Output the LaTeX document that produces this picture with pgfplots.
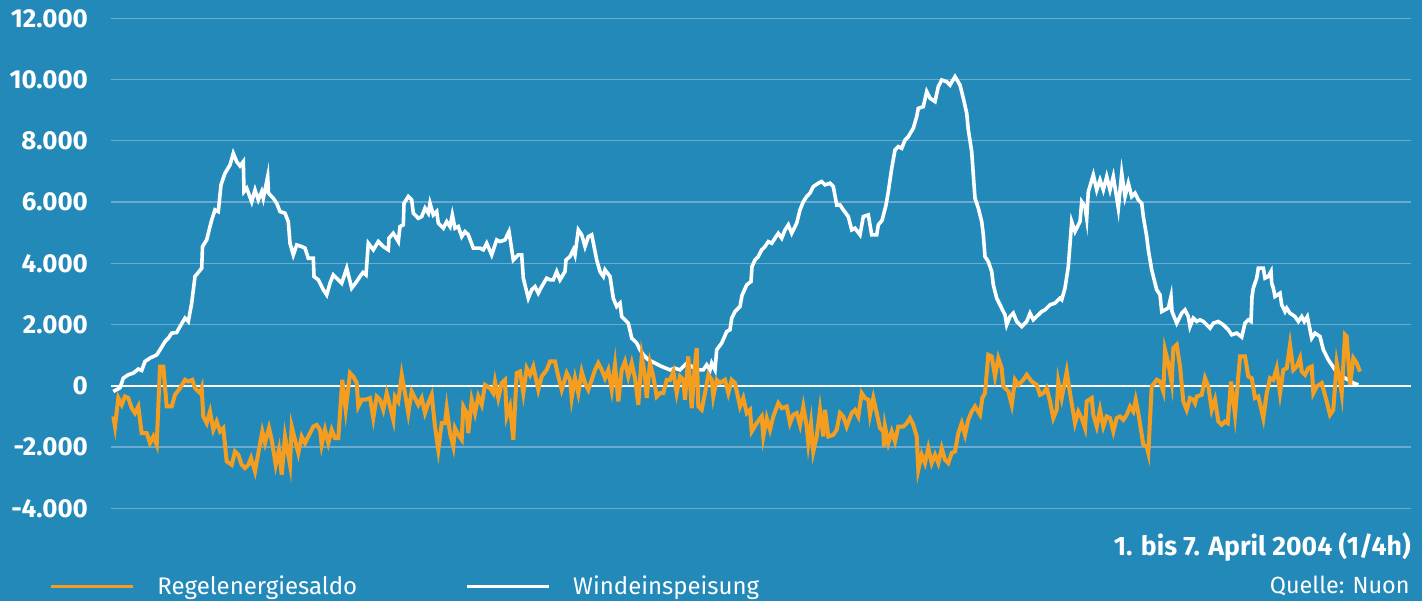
\documentclass[border=0pt]{standalone}
\usepackage{fontspec}
\setmainfont{Fira Sans}
\usepackage{pgfplots}
\pgfplotsset{compat=1.18}
\definecolor{bg}{RGB}{35,137,185}
\definecolor{org}{RGB}{245,157,30}
\definecolor{grd}{RGB}{105,172,208}
\begin{document}
\begin{tikzpicture}
\fill[bg] (0,0) rectangle (711pt,300.5pt);
\begin{axis}[
  at={(55.5pt,46.35pt)}, anchor=south west,
  scale only axis, width=650pt, height=245pt,
  xmin=111, xmax=1411, ymin=-4000, ymax=12000,
  axis line style={draw=none},
  scaled ticks=false,
  xtick=\empty,
  ytick={-4000,-2000,0,2000,4000,6000,8000,10000,12000},
  yticklabels={-4.000,-2.000,0,2.000,4.000,6.000,8.000,10.000,12.000},
  yticklabel style={font=\bfseries\fontsize{13}{15}\selectfont, text=white, anchor=east, xshift=-8pt},
  major tick length=0pt,
  ymajorgrids, grid style={grd, line width=0.6pt},
  extra y ticks={0}, extra y tick labels={},
  extra y tick style={grid style={white, line width=1.1pt}},
  legend columns=2,
  legend style={at={(-0.0477,-0.1606)}, anchor=west, draw=none, fill=none, inner sep=0pt,
    text=white, font=\fontsize{12}{14}\selectfont,
    /tikz/every even column/.append style={column sep=52pt}},
  legend image code/.code={\draw[#1] (0pt,0pt) -- (41pt,0pt); \path (50.5pt,0pt);},
  legend cell align=left,
]
\addlegendimage{org, line width=1.5pt}
\addlegendimage{white, line width=1.5pt}
\addplot[white, line width=1.8pt, forget plot] coordinates {
(113.3,-185)(120,-65)(123.3,250)(128.3,360)(133.3,415)(138.3,545)(141.7,500)(145,795)(150,905)(156.7,1010)
(160,1175)(165,1445)(168.3,1555)(171.7,1720)(176.7,1740)(180,1935)(185,2210)(188.3,2100)(191.7,2700)(195,3570)
(201.7,3840)(202.5,4545)(206.7,4765)(210,5200)(211.7,5415)(215,5745)(218.3,5690)(221,6560)(225,6940)(230,7210)
(233.3,7590)(236.7,7320)(240,7180)(243.3,7320)(244,6340)(246.7,6450)(251.7,6010)(255,6395)(258.3,6070)(261.7,6340)
(263.3,6125)(267.7,6830)(268.5,6290)(273.3,6125)(276.7,5960)(280,5690)(285,5635)(288.3,5360)(290,4655)(293.3,4275)
(296.7,4600)(301.7,4545)(305,4495)(308.3,4165)(313.3,4165)(314,3570)(318.3,3460)(323.3,3135)(326.7,2970)(330,3350)
(333.3,3620)(338.3,3460)(341.7,3350)(346.7,3840)(351.7,3190)(356.7,3405)(360,3570)(363,3700)(366,3620)(368.3,4655)
(373.3,4440)(378.3,4710)(383.3,4545)(388.3,4440)(389,4820)(393.3,4980)(398.3,4710)(400,5200)(403.3,5255)(404,5960)
(408.3,6180)(411.7,6070)(413.3,5635)(418.3,5470)(421.7,5525)(425,5800)(428.3,5635)(430,5960)(433.3,5580)(436.7,5690)
(438.3,5310)(443.3,5145)(446.7,5360)(450,5200)(452.3,5580)(455,5145)(458.3,5200)(461.7,4870)(465,5035)(468.3,4930)
(473.3,4495)(480,4495)(483.3,4440)(486.7,4655)(491.7,4275)(496.7,4765)(500,4710)(505,4765)(509,5035)(513.3,4110)
(518.3,4275)(521.7,4275)(523.3,3515)(528.3,2860)(531.7,3135)(535,3240)(538.3,3025)(541.7,3240)(546.7,3515)(550,3460)
(553.3,3460)(556.7,3730)(560,3460)(565,3730)(566,4110)(570,4220)(573.3,4440)(575,4275)(578.3,5090)(581.7,4930)
(585,4545)(588.3,4870)(591.7,4930)(596.7,4110)(600,3730)(603.3,3570)(605,3785)(610,3570)(613.3,2860)(616.7,2590)
(620,2700)(621.7,2260)(625,2155)(628.3,2045)(631.7,1555)(636.7,1395)(640,1175)(643.3,1010)(648.3,850)(655,740)
(661.7,630)(670,520)(675,575)(680,520)(686.7,740)(691.7,630)(696.7,520)(703.3,520)(706.7,685)(710,520)
(711.7,740)(715,520)(716.7,1175)(721.7,1395)(726.7,1770)(730,1830)(731.7,2210)(735,2425)(740,2590)(742,2950)
(746.7,3295)(751,3405)(752,3895)(755,4110)(758.3,4220)(761.7,4440)(765,4545)(768.3,4710)(771.7,4655)(775,4820)
(778.3,4980)(781.7,4820)(785,5090)(788.3,5255)(791.7,4980)(796.7,5310)(800,5745)(803.3,6010)(806.7,6180)(810,6290)
(813.3,6505)(818.3,6615)(821.7,6670)(825,6560)(830,6615)(833.3,6505)(836.7,5905)(840,5905)(843.3,5745)(848.3,5525)
(851.7,5090)(855,5145)(860,4930)(863.3,5525)(868.3,5580)(871.7,4930)(876.7,4930)(878.3,5255)(882,5400)(886,5900)
(888.3,6340)(891.7,7100)(895,7700)(898.3,7810)(901.7,7755)(905,8025)(908.3,8135)(913.3,8410)(916.7,8790)(918.3,9060)
(923.3,9115)(926.7,9605)(930,9390)(935,9280)(938.3,9770)(941.7,9985)(946.7,9930)(950,9820)(955,10095)(960,9820)
(963.3,9390)(966.7,8900)(968.3,8355)(971.7,7645)(973.3,6885)(975,6125)(978.3,5800)(981.7,5360)(983.3,4930)(985,4220)
(988.3,4055)(991.7,3730)(993.3,3295)(996.7,2860)(1000,2645)(1005,2315)(1006.7,1990)(1010,2260)(1013.3,2370)(1016.7,2100)
(1021.7,1935)(1026.7,2100)(1030,2370)(1033.3,2155)(1038.3,2315)(1041.7,2425)(1045,2480)(1050,2645)(1055,2700)(1060,2860)
(1061.7,2810)(1065,3190)(1068.3,3895)(1071.7,5360)(1075,5035)(1080,5360)(1081.7,6010)(1085,5850)(1086.7,5470)(1088.3,6340)
(1093.3,6885)(1096.7,6395)(1100,6720)(1103.3,6395)(1106.7,6830)(1110,6395)(1113.3,6830)(1118.3,5800)(1121.7,6940)(1125,6180)
(1128.3,6615)(1131.7,6180)(1135,6290)(1138.3,6070)(1141.7,5960)(1143.3,5525)(1146.7,4870)(1148.3,4440)(1151.7,3785)(1156.7,3135)
(1160,2970)(1161.7,2425)(1165,2480)(1168.3,2535)(1171,2915)(1172,2425)(1176.7,2045)(1181.7,2370)(1185,2480)(1188.3,2260)
(1190,1935)(1193.3,2210)(1196.7,2100)(1200,2155)(1203.3,2100)(1210,1880)(1213.3,2045)(1218.3,2100)(1223.3,1990)(1228.3,1830)
(1231.7,1665)(1236.7,1720)(1241.7,1590)(1245,2045)(1248.3,2155)(1251,2100)(1252,2915)(1253.3,3190)(1256.7,3515)(1258.3,3840)
(1263.3,3840)(1265,3515)(1268.3,3570)(1271,3730)(1271.7,3350)(1273.3,3190)(1275,2915)(1280,3025)(1281.7,2645)(1285,2425)
(1286.7,2535)(1290,2370)(1295,2260)(1298.3,2100)(1301.7,2260)(1304.3,2100)(1307.3,2260)(1310,1830)(1311.7,1555)(1315,1720)
(1320,1610)(1323.3,1175)(1328.3,850)(1335,520)(1341.7,305)(1348.3,195)(1353.3,90)(1358.3,30)
};
\addplot[org, line width=2pt, forget plot] coordinates {
(113.3,-1000)(115,-1330)(118.3,-400)(121.7,-620)(125,-350)(128.3,-400)(131.7,-730)(135,-890)(138.3,-675)(141.7,-1545)
(146.7,-1545)(150,-1870)(153.3,-1655)(156.7,-1925)(160,630)(163.3,630)(166.7,-675)(171.7,-675)(175,-295)(180,-75)
(185,195)(188.3,140)(192.3,195)(195,-75)(200,-240)(201.7,-75)(203.3,-1000)(206.7,-1220)(210,-840)(213.3,-1435)
(216.7,-1165)(220,-1490)(223.3,-1380)(226.7,-2470)(231.7,-2580)(235,-2145)(238.3,-2250)(241.7,-2580)(245,-2685)(248.3,-2580)
(251,-2360)(255,-2795)(258.3,-2195)(262.3,-1490)(265,-1870)(269,-1380)(271.7,-1760)(275.7,-2580)(279,-2090)(281.7,-2905)
(285,-1655)(290,-2580)(291.7,-1330)(295,-1760)(298.3,-2195)(301.7,-1655)(305,-1870)(310,-1545)(313.3,-1330)(316.7,-1275)
(320,-1435)(321.7,-1925)(325,-1435)(328.3,-1870)(331.7,-1435)(335,-1710)(338.3,-1710)(342.3,195)(345.7,-785)(350,415)
(353.3,305)(356.7,90)(358.3,-675)(361.7,-455)(365,-455)(370,-400)(373.3,-1055)(376.7,-350)(380,-455)(383.3,-785)
(386.7,-240)(390,-675)(393.3,-1110)(395,-350)(398.3,-510)(401.7,360)(405,-240)(408.3,-890)(411.7,-185)(415,-400)
(418.3,-620)(421.7,-400)(425,-890)(428.3,-565)(431.7,-295)(435,-1330)(438.3,-2090)(441.7,-1220)(445,-1220)(446.7,-730)
(450,-1545)(453.3,-1980)(455,-1380)(458.3,-1600)(461.7,-1760)(463.3,-675)(466.7,-890)(468.3,-1545)(471.7,-455)(475,-890)
(478.3,-350)(481.7,-620)(485,30)(490,-75)(493.3,-240)(495,140)(498.3,-400)(501.7,90)(505,195)(506.7,-1000)
(510,-675)(513.3,-1760)(516.7,415)(520,465)(523.3,-240)(526.7,575)(530,360)(533.3,630)(538.3,-130)(541.7,305)
(546.7,520)(550,795)(555,795)(558.3,305)(561.7,-130)(566.7,415)(570,195)(571.7,-400)(575,250)(578.3,-240)
(581.7,465)(585,90)(588.3,-130)(591.7,195)(595,520)(598.3,740)(601.7,520)(605,250)(608.3,520)(611.7,-130)
(615,685)(618.3,-510)(621.7,520)(625,795)(628.3,305)(631.7,740)(635,250)(638.3,-620)(641.7,960)(645,305)
(646.7,-400)(650,740)(653.3,305)(656.7,-350)(660,-240)(663.3,-240)(666.7,195)(670,195)(673.3,465)(676.7,-240)
(680,305)(683.3,195)(685,-455)(688.3,960)(691.7,-730)(695,740)(696.7,1230)(698.3,-675)(701.7,-785)(705,-240)
(708.3,360)(711.7,195)(713.3,-350)(716.7,195)(720,90)(725,195)(728.3,-240)(731.7,195)(735,90)(740,-675)
(743.3,-400)(746.7,-890)(750,-785)(751.7,-1490)(756.7,-1220)(761.7,-1000)(763.3,-1655)(766.7,-1055)(770,-1435)(773.3,-1000)
(778.3,-565)(781.7,-730)(786.7,-675)(790,-1220)(793.3,-945)(796.7,-890)(800,-1275)(803.3,-675)(806.7,-1330)(808.3,-1870)
(811,-1220)(813.3,-2145)(816.7,-1655)(820,-785)(823.3,-1655)(825,-785)(828.3,-1655)(833.3,-1600)(836.7,-1435)(840,-890)
(843.3,-1000)(846.7,-1330)(851.7,-890)(855,-785)(858.3,-1000)(861.7,-240)(865,-400)(868.3,-455)(870,-945)(873.3,-400)
(876.7,-890)(880,-1380)(883.3,-1490)(884,-1980)(885,-1330)(888.3,-1870)(891.7,-1490)(895,-1820)(898.3,-1330)(903.3,-1330)
(906.7,-1220)(910,-1055)(913.3,-1275)(916.7,-1655)(918.3,-2740)(921.7,-2250)(925,-2525)(928.3,-2035)(931.7,-2525)(935,-2250)
(938.3,-2525)(941.7,-2035)(945,-2415)(948.3,-2525)(951.7,-2195)(955,-2145)(958.3,-1545)(961.7,-1220)(965,-1600)(968.3,-1110)
(971.7,-840)(975,-675)(980,-945)(982.3,-400)(985,-240)(988.3,1010)(991.7,960)(995,305)(998.3,905)(1001.7,575)
(1003.3,-20)(1008.3,-185)(1011.7,-620)(1015,195)(1018.3,30)(1023.3,195)(1026.7,360)(1031.7,140)(1036.7,30)(1040,-295)
(1043.3,-240)(1046.7,-75)(1050,-510)(1053.3,-1055)(1056.7,-785)(1058.3,140)(1061.7,-400)(1066.7,465)(1070,-240)(1075,-1220)
(1078.3,-840)(1081.7,-1055)(1085,-1380)(1086.7,-510)(1091.7,-400)(1093.3,-945)(1096.7,-1330)(1100,-785)(1103.3,-1330)(1106.7,-1000)
(1110,-1055)(1113.3,-1490)(1116.7,-1055)(1120,-1000)(1123.3,-1110)(1126.7,-945)(1130,-675)(1133.3,-840)(1135.7,-455)(1138.3,-890)
(1143.3,-1925)(1146.7,-1980)(1148.3,-2195)(1151.7,-20)(1156.7,195)(1160,140)(1163.3,-185)(1165,1175)(1168.3,740)(1171.7,90)
(1173.3,1230)(1176.7,1340)(1180,630)(1183.3,-510)(1186.7,-785)(1190,-400)(1193.3,-455)(1195,-565)(1196.7,-350)(1201.7,-295)
(1205,250)(1208.3,-20)(1211.7,-785)(1215,-455)(1218.3,-1165)(1221.7,-1275)(1225,-1165)(1227.7,-1220)(1231,140)(1235,-945)
(1240,960)(1245,960)(1248.3,305)(1251.7,250)(1255,-400)(1258.3,-350)(1263.3,-1055)(1266.7,-240)(1270,250)(1273.3,195)
(1276.7,575)(1280,-240)(1283.3,520)(1286.7,575)(1290,1340)(1293.3,520)(1296.7,630)(1300,905)(1301.7,465)(1305,360)
(1308.3,575)(1311.7,630)(1313.3,-240)(1316.7,-20)(1321.7,90)(1326.7,-510)(1330,-945)(1333.3,-785)(1336.7,740)(1340,140)
(1341.7,-240)(1345,1665)(1346.7,1610)(1350,30)(1353.3,905)(1356.7,740)(1360,465)
};
\legend{Regelenergiesaldo, Windeinspeisung}
\end{axis}
\node[anchor=east, inner sep=0pt, text=white, font=\bfseries\fontsize{13.3}{15}\selectfont] at (705.5pt,27pt) {1. bis 7. April 2004 (1/4h)};
\node[anchor=east, inner sep=0pt, text=white, font=\fontsize{11.7}{13}\selectfont] at (705pt,7.5pt) {Quelle: Nuon};
\end{tikzpicture}
\end{document}
